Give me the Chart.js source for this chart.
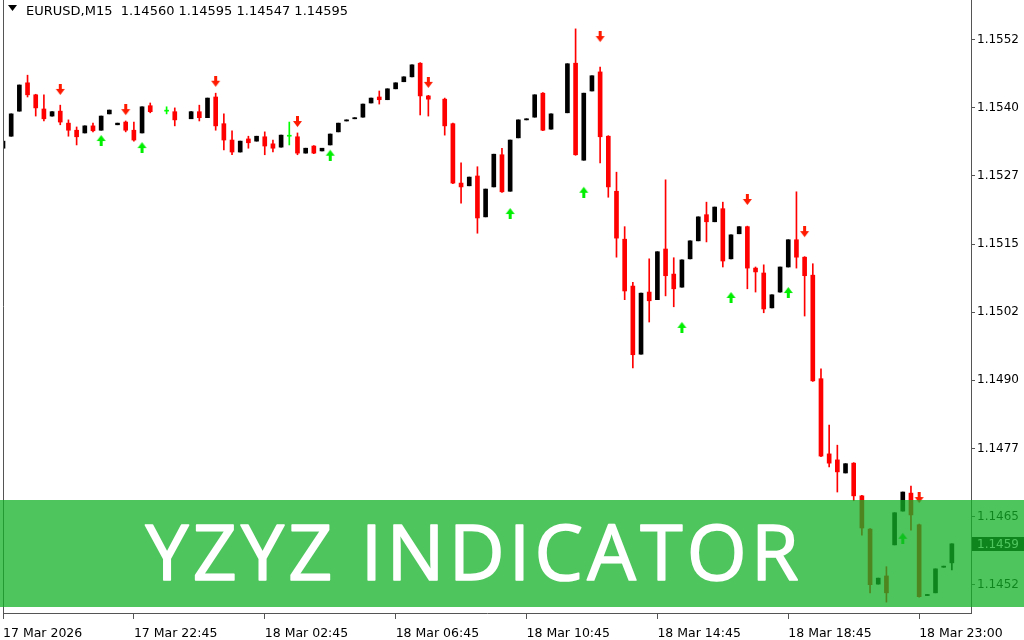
<!DOCTYPE html>
<html lang="en">
<head>
<meta charset="UTF-8" />
<title>YZYZ Indicator</title>
<style>
  html, body { margin: 0; padding: 0; background: #ffffff; }
  #wrap { width: 1024px; height: 640px; }
</style>
<script src="https://cdn.jsdelivr.net/npm/chart.js"></script>
</head>
<body>
<div id="wrap"><canvas id="chart" width="1024" height="640"></canvas></div>
<script>
// EURUSD M15 candles (null = bar not visible)
const symbol = 'EURUSD,M15';
const opens = [
  1.15321,1.15343,1.15389,1.15441,1.15419,1.15393,1.15380,1.15389,1.15367,1.15354,
  1.15349,1.15362,1.15354,1.15384,1.15364,1.15369,1.15354,1.15349,1.15399,null,
  1.15389,1.15388,null,1.15375,1.15388,1.15377,1.15415,1.15366,1.15336,1.15314,
  1.15338,1.15334,1.15342,1.15329,1.15323,1.15343,1.15342,1.15312,1.15325,1.15316,
  1.15327,1.15351,1.15371,1.15375,1.15378,1.15404,1.15415,1.15410,1.15430,1.15443,
  1.15452,1.15477,1.15417,null,1.15411,1.15366,1.15257,1.15252,1.15270,1.15195,
  1.15250,1.15309,1.15242,1.15340,1.15373,1.15378,1.15422,1.15356,null,1.15386,
  1.15477,1.15299,1.15426,1.15461,1.15343,1.15242,1.15154,1.15068,1.14943,1.15057,
  1.15043,1.15136,1.15090,1.15066,1.15118,1.15151,1.15199,1.15186,1.15210,1.15118,
  1.15164,1.15177,1.15101,1.15092,1.15028,1.15057,1.15103,1.15153,1.15121,1.15088,
  1.14898,1.14760,1.14749,1.14725,1.14743,1.14683,1.14622,1.14521,1.14536,1.14593,
  1.14655,1.14688,1.14630,1.14500,1.14505,1.14552,1.14560
];
const highs = [
  1.15334,1.15384,1.15437,1.15455,1.15420,1.15419,1.15388,1.15400,1.15373,1.15360,
  1.15362,1.15367,1.15380,1.15391,1.15367,1.15371,1.15369,1.15397,1.15404,null,
  1.15397,1.15395,null,1.15388,1.15400,1.15413,1.15422,1.15384,1.15353,1.15334,
  1.15343,1.15343,1.15351,1.15336,1.15345,1.15369,1.15349,1.15321,1.15326,1.15321,
  1.15347,1.15367,1.15373,1.15377,1.15402,1.15413,1.15426,1.15430,1.15441,1.15452,
  1.15474,1.15478,1.15418,null,1.15413,1.15367,1.15294,1.15268,1.15287,1.15246,
  1.15310,1.15321,1.15336,1.15373,1.15375,1.15419,1.15423,1.15384,null,1.15476,
  1.15540,1.15422,1.15454,1.15470,1.15344,1.15277,1.15177,1.15075,1.15055,1.15118,
  1.15131,1.15263,1.15120,1.15116,1.15151,1.15195,1.15222,1.15213,1.15222,1.15162,
  1.15177,1.15178,1.15103,1.15107,1.15052,1.15103,1.15153,1.15241,1.15122,1.15109,
  1.14916,1.14813,1.14776,1.14742,1.14744,1.14684,1.14623,1.14532,1.14553,1.14652,
  1.14690,1.14701,1.14631,1.14502,1.14549,1.14554,1.14595
];
const lows = [
  1.15321,1.15343,1.15389,1.15415,1.15380,1.15371,1.15380,1.15364,1.15343,1.15327,
  1.15349,1.15351,1.15354,1.15384,1.15364,1.15351,1.15334,1.15349,1.15386,null,
  1.15384,1.15362,null,1.15375,1.15371,1.15377,1.15354,1.15318,1.15309,1.15314,
  1.15321,1.15334,1.15309,1.15314,1.15323,1.15327,1.15309,1.15312,1.15311,1.15316,
  1.15327,1.15351,1.15371,1.15375,1.15378,1.15404,1.15402,1.15410,1.15430,1.15443,
  1.15452,1.15382,1.15380,null,1.15345,1.15256,1.15220,1.15252,1.15165,1.15195,
  1.15250,1.15240,1.15242,1.15340,1.15373,1.15378,1.15353,1.15356,null,1.15386,
  1.15308,1.15299,1.15426,1.15294,1.15231,1.15121,1.15043,1.14918,1.14943,1.15002,
  1.15043,1.15050,1.15030,1.15066,1.15118,1.15151,1.15149,1.15186,1.15103,1.15118,
  1.15164,1.15063,1.15057,1.15019,1.15028,1.15057,1.15103,1.15101,1.15013,1.14893,
  1.14755,1.14736,1.14690,1.14725,1.14674,1.14611,1.14505,1.14521,1.14488,1.14593,
  1.14655,1.14620,1.14497,1.14500,1.14505,1.14552,1.14547
];
const closes = [
  1.15334,1.15384,1.15437,1.15419,1.15395,1.15375,1.15388,1.15369,1.15354,1.15342,
  1.15362,1.15353,1.15380,1.15391,1.15367,1.15354,1.15336,1.15397,1.15388,null,
  1.15389,1.15373,null,1.15388,1.15377,1.15413,1.15362,1.15336,1.15314,1.15334,
  1.15331,1.15343,1.15325,1.15321,1.15345,1.15343,1.15312,1.15321,1.15312,1.15321,
  1.15347,1.15367,1.15373,1.15377,1.15402,1.15413,1.15410,1.15430,1.15441,1.15452,
  1.15474,1.15417,1.15411,null,1.15362,1.15257,1.15250,1.15268,1.15193,1.15246,
  1.15310,1.15241,1.15336,1.15373,1.15375,1.15419,1.15354,1.15384,null,1.15476,
  1.15309,1.15422,1.15454,1.15342,1.15250,1.15156,1.15059,1.14942,1.15055,1.15041,
  1.15131,1.15087,1.15063,1.15116,1.15151,1.15195,1.15186,1.15213,1.15114,1.15162,
  1.15177,1.15101,1.15094,1.15026,1.15052,1.15103,1.15153,1.15121,1.15087,1.14894,
  1.14756,1.14743,1.14727,1.14742,1.14683,1.14624,1.14520,1.14532,1.14505,1.14652,
  1.14690,1.14648,1.14498,1.14502,1.14549,1.14554,1.14595
];

// indicator arrows (bar index, price)
const downIdx = [7, 15, 26, 36, 52, 73, 91, 98, 112];
const downPrice = [1.15428, 1.15391, 1.15443, 1.15369, 1.15441, 1.15525, 1.15226, 1.15167, 1.14679];
const upIdx = [12, 17, 40, 62, 71, 83, 89, 96, 110];
const upPrice = [1.15336, 1.15323, 1.15309, 1.15202, 1.15241, 1.14993, 1.15048, 1.15057, 1.14606];

// axes
const timeTickIdx = [0, 16, 32, 48, 64, 80, 96, 112];
const timeTickText = ['17 Mar 2026', '17 Mar 22:45', '18 Mar 02:45', '18 Mar 06:45',
  '18 Mar 10:45', '18 Mar 14:45', '18 Mar 18:45', '18 Mar 23:00'];
const priceTicks = [1.1552, 1.15395, 1.1527, 1.15145, 1.1502, 1.14895, 1.1477, 1.14645, 1.1452];
const priceTickText = ['1.1552', '1.1540', '1.1527', '1.1515', '1.1502', '1.1490', '1.1477', '1.1465', '1.1452'];
const bannerText = 'YZYZ INDICATOR';

const BULL = '#000000', BEAR = '#ff0000', DOJI = '#00ff00';

const bodies = [];
const wicks = [];
for (let i = 0; i < opens.length; i++) {
  if (opens[i] === null) continue;
  let col = DOJI;
  if (closes[i] > opens[i]) col = BULL;
  else if (closes[i] < opens[i]) col = BEAR;
  bodies.push({ x: i, y: [opens[i], closes[i]], c: col });
  wicks.push({ x: i, y: [lows[i], highs[i]], c: col });
}

function makeArrow(color, down) {
  const c = document.createElement('canvas');
  c.width = 11; c.height = 12;
  const g = c.getContext('2d');
  g.fillStyle = color;
  g.beginPath();
  if (down) {
    g.moveTo(4, 0); g.lineTo(7, 0); g.lineTo(7, 5); g.lineTo(10, 5);
    g.lineTo(5.5, 11); g.lineTo(1, 5); g.lineTo(4, 5);
  } else {
    g.moveTo(4, 12); g.lineTo(7, 12); g.lineTo(7, 7); g.lineTo(10, 7);
    g.lineTo(5.5, 1); g.lineTo(1, 7); g.lineTo(4, 7);
  }
  g.closePath();
  g.fill();
  return c;
}

const n = opens.length;
const last = n - 1;

const decor = {
  id: 'decor',
  afterDraw(chart) {
    const ctx = chart.ctx;
    const ca = chart.chartArea;
    const ys = chart.scales.y;
    ctx.save();
    // left frame line
    ctx.strokeStyle = '#555555';
    ctx.lineWidth = 1;
    ctx.beginPath();
    ctx.moveTo(ca.left + 0.5, 0);
    ctx.lineTo(ca.left + 0.5, ca.bottom);
    ctx.stroke();

    // header
    ctx.fillStyle = '#000';
    ctx.beginPath();
    ctx.moveTo(8, 5); ctx.lineTo(17, 5); ctx.lineTo(12.5, 11); ctx.closePath();
    ctx.fill();
    ctx.font = '13px "DejaVu Sans"';
    ctx.textBaseline = 'alphabetic';
    ctx.textAlign = 'left';
    const head = symbol + '  ' + [opens[last], highs[last], lows[last], closes[last]]
      .map(v => v.toFixed(5)).join(' ');
    ctx.fillText(head, 26, 15);

    // current price label (MT4 cuts the last digit)
    const py = Math.round(ys.getPixelForValue(closes[last]));
    ctx.font = '12px "DejaVu Sans"';
    ctx.fillStyle = '#000';
    ctx.fillRect(ca.right + 1, py - 7, 1024 - ca.right, 14);
    ctx.fillStyle = '#fff';
    ctx.textBaseline = 'middle';
    ctx.fillText((Math.floor(closes[last] * 10000 + 1e-6) / 10000).toFixed(4), ca.right + 6, py + 0.5);

    // green banner
    ctx.fillStyle = 'rgba(20,178,40,0.75)';
    ctx.fillRect(0, 500, 1024, 107);
    ctx.fillStyle = '#ffffff';
    ctx.strokeStyle = '#ffffff';
    ctx.lineWidth = 1.6;
    ctx.lineJoin = 'round';
    ctx.font = '500 77px "Open Sans"';
    ctx.textAlign = 'center';
    ctx.textBaseline = 'alphabetic';
    const w = ctx.measureText(bannerText).width;
    const sp = Math.max(0, (653 - w) / (bannerText.length - 1));
    ctx.letterSpacing = sp.toFixed(2) + 'px';
    ctx.fillText(bannerText, 472 + sp / 2, 580);
    ctx.strokeText(bannerText, 472 + sp / 2, 580);
    ctx.restore();
  }
};

new Chart(document.getElementById('chart'), {
  type: 'bar',
  data: {
    datasets: [
      {
        label: 'body',
        data: bodies,
        grouped: false,
        barThickness: 4,
        minBarLength: 1,
        backgroundColor: c => c.raw ? c.raw.c : BULL,
        borderWidth: 0,
        order: 1
      },
      {
        label: 'wick',
        data: wicks,
        grouped: false,
        barThickness: 1,
        minBarLength: 1,
        backgroundColor: c => c.raw ? c.raw.c : BULL,
        borderWidth: 0,
        order: 2
      },
      {
        type: 'scatter',
        label: 'down',
        data: downIdx.map((x, i) => ({ x: x, y: downPrice[i] })),
        pointStyle: makeArrow('#ff1a00', true),
        pointRadius: 5,
        order: 0
      },
      {
        type: 'scatter',
        label: 'up',
        data: upIdx.map((x, i) => ({ x: x, y: upPrice[i] })),
        pointStyle: makeArrow('#00ee00', false),
        pointRadius: 5,
        order: 0
      }
    ]
  },
  options: {
    responsive: false,
    animation: false,
    devicePixelRatio: 1,
    layout: { autoPadding: false, padding: { left: 3, right: 0, top: 0, bottom: 0 } },
    plugins: { legend: { display: false }, tooltip: { enabled: false } },
    scales: {
      x: {
        type: 'linear',
        min: 0,
        max: 118.34,
        offset: false,
        afterBuildTicks: s => { s.ticks = timeTickIdx.map(v => ({ value: v })); },
        afterFit: s => { s.height = 27; s.paddingLeft = 0; s.paddingRight = 0; },
        ticks: {
          callback: (v, i) => timeTickText[i],
          align: 'start',
          autoSkip: false,
          maxRotation: 0,
          color: '#000',
          padding: 7,
          font: { family: 'DejaVu Sans', size: 12.5 }
        },
        grid: { drawOnChartArea: false, offset: false, tickLength: 6, color: '#555' },
        border: { display: true, color: '#555' }
      },
      y: {
        type: 'linear',
        position: 'right',
        min: 1.14468,
        max: 1.15593,
        afterBuildTicks: s => { s.ticks = priceTicks.map(v => ({ value: v })); },
        afterFit: s => { s.width = 53; s.paddingTop = 0; s.paddingBottom = 0; },
        ticks: {
          callback: (v, i) => priceTickText[i],
          color: '#000',
          padding: 2,
          font: { family: 'DejaVu Sans', size: 12 }
        },
        grid: { drawOnChartArea: false, tickLength: 4, color: '#555' },
        border: { display: true, color: '#555' }
      }
    }
  },
  plugins: [decor]
});
</script>
</body>
</html>
